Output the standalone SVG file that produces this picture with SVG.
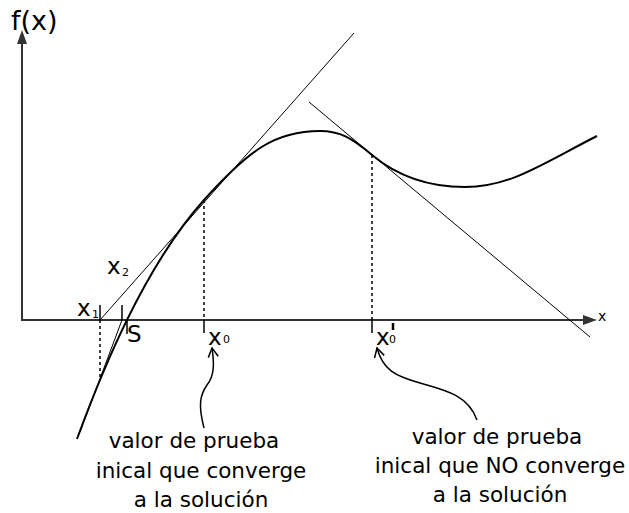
<svg xmlns="http://www.w3.org/2000/svg" width="629" height="513" viewBox="0 0 629 513">
<style>
text{font-family:"DejaVu Sans",sans-serif;fill:#000}
.ax{stroke:#333;stroke-width:2;fill:none}
.thin{stroke:#000;stroke-width:1;fill:none}
.curve{stroke:#000;stroke-width:2;fill:none}
.dash{stroke:#000;stroke-width:1.5;stroke-dasharray:3,3;fill:none}
.tick{stroke:#000;stroke-width:1.5;fill:none}
.lbl{font-size:23px}
.big{font-size:21.5px;text-anchor:middle}
.sub{font-size:11px}
</style>
<defs>
<marker id="open" markerWidth="12" markerHeight="12" refX="10" refY="6" orient="auto" markerUnits="userSpaceOnUse">
<path d="M1,1 L10,6 L1,11" fill="none" stroke="#000" stroke-width="1.5"/>
</marker>
</defs>
<g id="axes">
<line class="ax" x1="22" y1="321" x2="22" y2="40"/>
<polygon points="22,30 17,44 27,44" fill="#333"/>
<line class="ax" x1="22" y1="320" x2="586" y2="320"/>
<polygon points="597,320 583,315 583,325" fill="#333"/>
<text x="11" y="30" style="font-size:27px">f(x)</text>
<text x="598" y="321" style="font-size:14px">x</text>
</g>
<g id="function-curve">
<path class="curve" d="M77,439 C102,371 144,267 204,200 C249,150 275,131 320,131 C340,131 352,138 372,155 C402,180 435,187 465,187 C510,187 540,165 597,136"/>
</g>
<g id="connectors">
<line class="thin" x1="100" y1="320" x2="354" y2="33"/>
<line class="thin" x1="122" y1="320" x2="80" y2="432"/>
<line class="thin" x1="309" y1="102" x2="590" y2="337"/>
<line class="dash" x1="100" y1="320" x2="100" y2="377"/>
<line class="dash" x1="204" y1="200" x2="204" y2="320"/>
<line class="dash" x1="372" y1="155" x2="372" y2="320"/>
<path class="thin" style="stroke-width:1.5" d="M204,428 C198,405 200,395 207,385 C215,375 214,362 212,348" marker-end="url(#open)"/>
<path class="thin" style="stroke-width:1.5" d="M477,420 C468,395 445,390 420,383 C395,376 383,370 377,348" marker-end="url(#open)"/>
</g>
<g id="x1">
<line class="tick" x1="100" y1="305" x2="100" y2="320"/>
<text class="lbl" x="77" y="316">x</text>
<text class="sub" x="92" y="318">1</text>
</g>
<g id="x2">
<line class="tick" x1="122" y1="305" x2="122" y2="320"/>
<text class="lbl" x="107" y="274">x</text>
<text class="sub" x="122" y="276">2</text>
</g>
<g id="s">
<line class="tick" x1="127" y1="320" x2="127" y2="334"/>
<text class="lbl" x="127" y="342">S</text>
</g>
<g id="x0">
<line class="tick" x1="204" y1="320" x2="204" y2="333"/>
<text class="lbl" x="208" y="345">x</text>
<text class="sub" x="223" y="343">0</text>
</g>
<g id="x0prime">
<line class="tick" x1="372" y1="320" x2="372" y2="333"/>
<text class="lbl" x="376" y="345">x</text>
<text class="sub" x="389" y="343">0</text>
<line x1="393" y1="323" x2="393" y2="330" stroke="#000" stroke-width="2.5"/>
</g>
<g id="label-left">
<text class="big" x="194" y="448">valor de prueba</text>
<text class="big" x="201" y="478">inical que converge</text>
<text class="big" x="201" y="507">a la solución</text>
</g>
<g id="label-right">
<text class="big" x="497" y="444">valor de prueba</text>
<text class="big" x="500" y="473">inical que NO converge</text>
<text class="big" x="500" y="502">a la solución</text>
</g>
</svg>
